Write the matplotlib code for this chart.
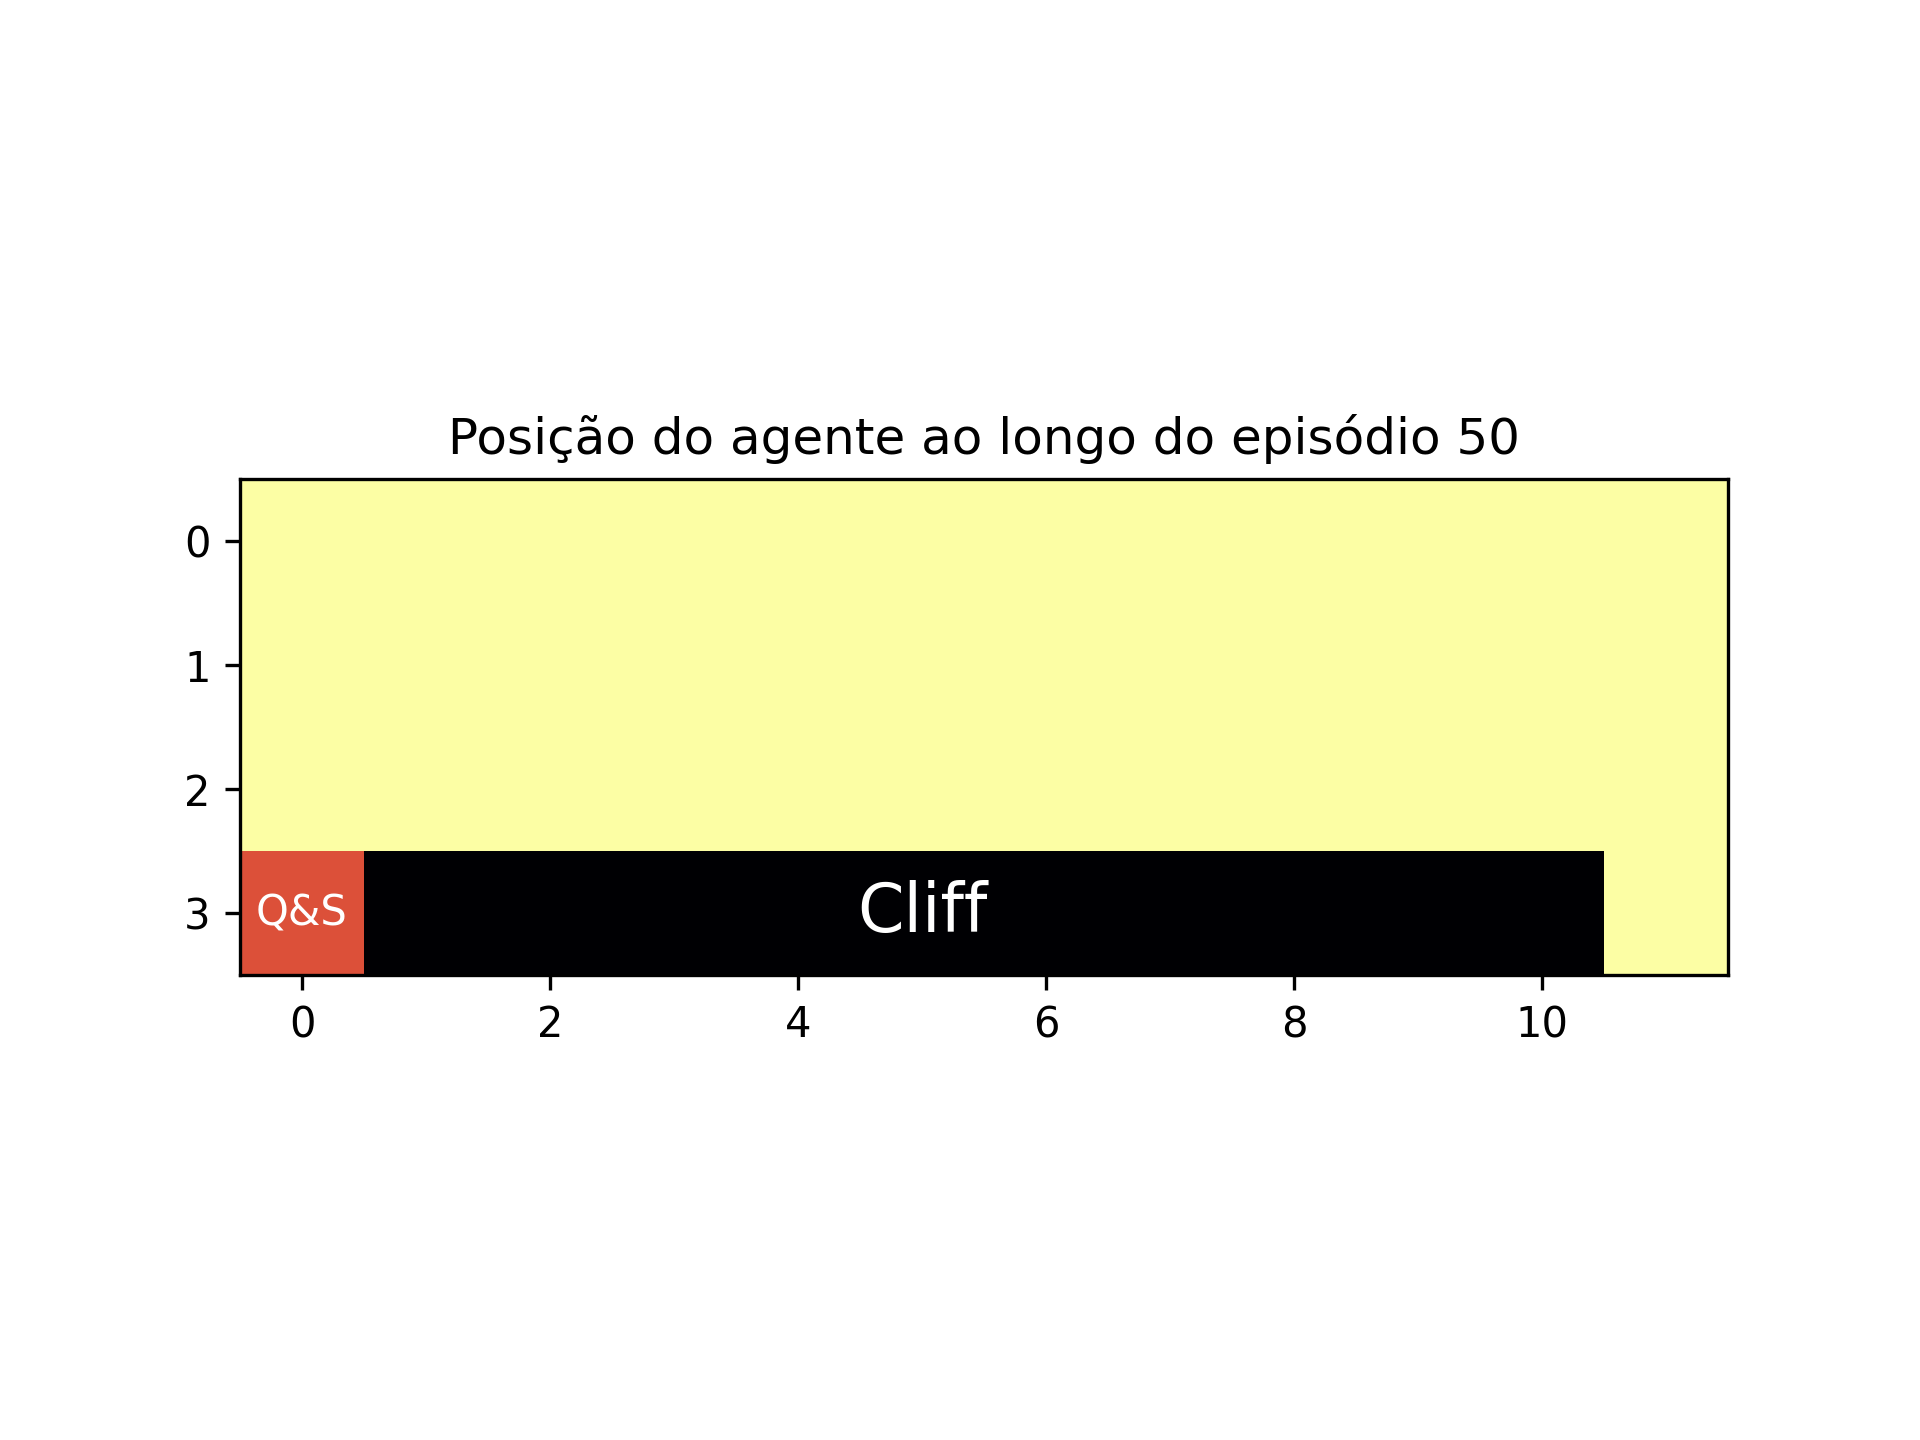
import numpy as np
import matplotlib
matplotlib.use("Agg")
import matplotlib.pyplot as plt

n_rows = 4
n_cols = 12
empty_value = 1.0
cliff_value = 0.0
agent_value = 0.6
cliff_cols = list(range(1, 11))
cliff_row = 3
cliff_label_col = 5
agent_pos = (3, 0)
title = "Posição do agente ao longo do episódio 50"

grid = np.full((n_rows, n_cols), empty_value)
for c in cliff_cols:
    grid[cliff_row, c] = cliff_value
grid[agent_pos] = agent_value

fig, ax = plt.subplots(figsize=(6.4, 4.8), dpi=300)
ax.imshow(grid, cmap="inferno", vmin=0, vmax=1)
ax.text(agent_pos[1], agent_pos[0], "Q&S", color="white", ha="center", va="center", fontsize=10)
ax.text(cliff_label_col, cliff_row, "Cliff", color="white", ha="center", va="center", fontsize=16)
ax.set_title(title)
fig.savefig("out.png")
